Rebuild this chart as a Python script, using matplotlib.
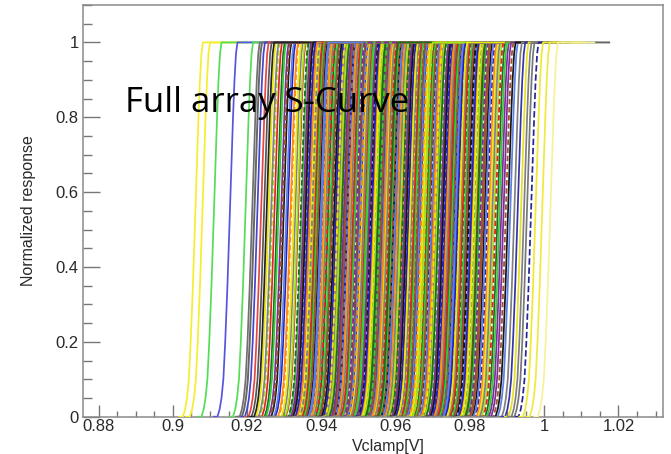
import matplotlib
matplotlib.use("Agg")
import matplotlib.pyplot as plt
from matplotlib.ticker import MultipleLocator, FixedLocator
import numpy as np

# ---------------- data ----------------
# mid-point (50 % response) of each pixel S-curve, in V
edge_thresholds = [0.9059, 0.9078, 0.9109, 0.9152, 0.9194, 0.9212, 0.9226, 0.9236, 0.9244, 0.9251,
                   0.9918, 0.9927, 0.9936, 0.9944, 0.9952, 0.9963, 0.9975, 0.9993, 1.0015]
dense_thresholds = [
    0.9256, 0.9263, 0.9266, 0.9272, 0.9279, 0.9283, 0.9290, 0.9294, 0.9297, 0.9304,
    0.9308, 0.9315, 0.9317, 0.9324, 0.9328, 0.9334, 0.9336, 0.9343, 0.9345, 0.9350,
    0.9353, 0.9356, 0.9359, 0.9362, 0.9366, 0.9367, 0.9372, 0.9374, 0.9377, 0.9381,
    0.9383, 0.9386, 0.9389, 0.9390, 0.9394, 0.9397, 0.9400, 0.9401, 0.9405, 0.9408,
    0.9411, 0.9413, 0.9416, 0.9417, 0.9422, 0.9424, 0.9427, 0.9428, 0.9433, 0.9435,
    0.9438, 0.9441, 0.9442, 0.9445, 0.9449, 0.9450, 0.9454, 0.9455, 0.9459, 0.9462,
    0.9464, 0.9467, 0.9469, 0.9470, 0.9474, 0.9477, 0.9479, 0.9482, 0.9484, 0.9487,
    0.9489, 0.9490, 0.9494, 0.9497, 0.9499, 0.9502, 0.9504, 0.9505, 0.9509, 0.9512,
    0.9514, 0.9517, 0.9519, 0.9520, 0.9524, 0.9527, 0.9529, 0.9532, 0.9534, 0.9535,
    0.9539, 0.9542, 0.9544, 0.9547, 0.9549, 0.9551, 0.9554, 0.9556, 0.9558, 0.9561,
    0.9563, 0.9566, 0.9568, 0.9569, 0.9573, 0.9576, 0.9578, 0.9581, 0.9583, 0.9585,
    0.9588, 0.9591, 0.9593, 0.9594, 0.9598, 0.9601, 0.9603, 0.9606, 0.9608, 0.9609,
    0.9613, 0.9616, 0.9618, 0.9621, 0.9623, 0.9625, 0.9628, 0.9631, 0.9633, 0.9634,
    0.9638, 0.9641, 0.9643, 0.9646, 0.9648, 0.9650, 0.9653, 0.9656, 0.9658, 0.9661,
    0.9663, 0.9665, 0.9668, 0.9671, 0.9673, 0.9674, 0.9678, 0.9681, 0.9683, 0.9686,
    0.9688, 0.9690, 0.9693, 0.9696, 0.9698, 0.9701, 0.9703, 0.9705, 0.9708, 0.9711,
    0.9713, 0.9714, 0.9718, 0.9721, 0.9723, 0.9726, 0.9728, 0.9730, 0.9733, 0.9736,
    0.9738, 0.9741, 0.9743, 0.9745, 0.9748, 0.9751, 0.9753, 0.9756, 0.9758, 0.9760,
    0.9763, 0.9766, 0.9769, 0.9771, 0.9774, 0.9777, 0.9779, 0.9782, 0.9785, 0.9788,
    0.9791, 0.9793, 0.9796, 0.9799, 0.9802, 0.9805, 0.9808, 0.9811, 0.9814, 0.9817,
    0.9820, 0.9824, 0.9827, 0.9831, 0.9834, 0.9838, 0.9842, 0.9846, 0.9850, 0.9855,
    0.9859, 0.9864, 0.9868, 0.9873, 0.9878, 0.9883, 0.9889, 0.9895, 0.9901, 0.9907,
]
# common S-curve profile: offset from mid-point (V) and normalized response
profile_dx = [-0.0042, -0.0032, -0.0026, -0.0021, -0.0016, -0.0011, -0.0005, 0.0,
              0.0005, 0.0010, 0.0014, 0.0018, 0.0022, 0.0120]
profile_y = [0.0, 0.0, 0.02, 0.05, 0.10, 0.20, 0.35, 0.50,
             0.65, 0.80, 0.90, 0.97, 1.0, 1.0]
# one long scan whose plateau reaches far right
long_curve_threshold = 0.9218
long_curve_end = 1.0175

x_ticks = [0.88, 0.90, 0.92, 0.94, 0.96, 0.98, 1.00, 1.02]
x_tick_labels = ["0.88", "0.9", "0.92", "0.94", "0.96", "0.98", "1", "1.02"]
y_ticks = [0, 0.2, 0.4, 0.6, 0.8, 1.0]
y_tick_labels = ["0", "0.2", "0.4", "0.6", "0.8", "1"]

# ---------------- styles ----------------
palette = ['#efe800', '#35cc35', '#2222c4', '#e42222', '#151515', '#808080',
           '#7d2c9c', '#ff8c10', '#1d6d1d', '#5b7fe6', '#9ee41a', '#a0522d']
edge_colors = ['#f4ee30', '#f4ee30', '#55dd55', '#5555dd', '#55dd55', '#707070',
               '#4444cc', '#e84444', '#555555', '#222222',
               '#808080', '#3333aa', '#e6e020', '#808080', '#777777', '#26269a',
               '#efe830', '#f0ea40', '#f6f29a']
edge_styles = ['-'] * 15 + ['--', '-', '-', '-']

fig = plt.figure(figsize=(6.71, 4.54), dpi=100)
ax = fig.add_axes([83 / 671, 1 - 416.7 / 454, (663 - 83) / 671, (416.7 - 5) / 454])

pdx = np.array(profile_dx)
py = np.array(profile_y)

# long scan first (underneath)
ax.plot(np.r_[long_curve_threshold + pdx[:-1], long_curve_end], py,
        color='#666666', lw=1.4, zorder=1)

n = len(dense_thresholds)
order = [(i * 37) % n for i in range(n)]
for i in order:
    t = dense_thresholds[i]
    c = palette[(i * 5 + (i // 12) * 7) % len(palette)]
    if i % 5 == 2:
        ax.plot(t + pdx, py, color=c, lw=1.3, ls='--', dashes=(3, 1.5), zorder=2)
    else:
        ax.plot(t + pdx, py, color=c, lw=1.25, zorder=2)

for t, c, s in zip(edge_thresholds, edge_colors, edge_styles):
    ax.plot(t + pdx, py, color=c, lw=1.25, ls=s, zorder=3)

ax.set_xlim(0.8758, 1.032)
ax.set_ylim(0, 1.1)

ax.xaxis.set_major_locator(FixedLocator(x_ticks))
ax.set_xticklabels(x_tick_labels)
ax.xaxis.set_minor_locator(MultipleLocator(0.005))
ax.yaxis.set_major_locator(FixedLocator(y_ticks))
ax.set_yticklabels(y_tick_labels)
ax.yaxis.set_minor_locator(MultipleLocator(0.05))

for lab in ax.get_xticklabels() + ax.get_yticklabels():
    lab.set_fontfamily('Liberation Sans')
    lab.set_fontsize(12)
    lab.set_color('#2a2a2a')

ax.tick_params(axis='x', which='major', direction='in', length=8.5, width=1.0,
               color='#777777', pad=1.5, top=False)
ax.tick_params(axis='x', which='minor', direction='in', length=4.3, width=1.0,
               color='#777777', top=False)
ax.tick_params(axis='y', which='major', direction='in', length=12, width=1.0,
               color='#777777', pad=3, right=False)
ax.tick_params(axis='y', which='minor', direction='in', length=6.3, width=1.0,
               color='#777777', right=False)
for sp in ax.spines.values():
    sp.set_color('#8a8a8a')
    sp.set_linewidth(1.1)

fig.text(388 / 671, 1 - 446 / 454, "Vclamp[V]", ha='center', va='center',
         family='Liberation Sans', fontsize=11.5, color='#2a2a2a')
fig.text(28 / 671, 1 - 211 / 454, "Normalized response", ha='center', va='center',
         rotation=90, family='Liberation Sans', fontsize=11.5, color='#2a2a2a')

ax.text(0.8871, 0.813, "Full array S-Curve", family='Open Sans', fontsize=25,
        color='black', ha='left', va='baseline', zorder=10)

fig.savefig("out.png", dpi=100)
